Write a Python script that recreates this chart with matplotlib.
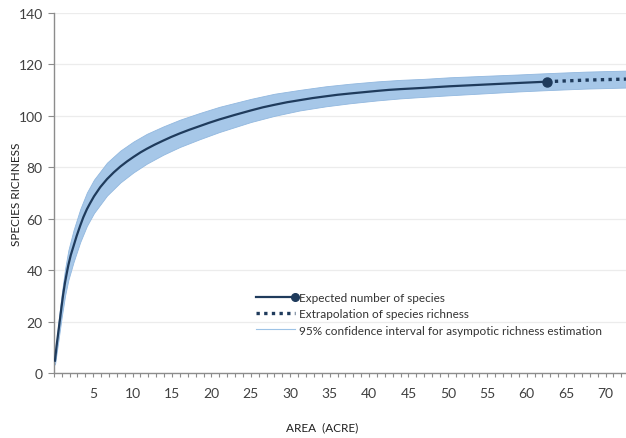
import matplotlib
matplotlib.use("Agg")
import matplotlib.pyplot as plt
from matplotlib.lines import Line2D
from matplotlib.legend_handler import HandlerBase
from matplotlib.ticker import MultipleLocator, FixedLocator

plt.rcParams['font.family'] = ['Lato', 'DejaVu Sans']

# ---- data ----
area = [0.15, 0.35, 0.57, 0.8, 1.0, 1.2, 1.43, 1.65, 1.85, 2.15, 2.5, 2.9, 3.35,
        3.75, 4.2, 4.6, 5.1, 5.9, 6.75, 7.6, 8.45, 9.3, 10.1, 11.0, 11.8, 12.8,
        13.9, 14.9, 16.0, 17.2, 18.5, 19.7, 21.0, 23.0, 25.0, 26.5, 28.0, 29.6,
        31.2, 32.8, 34.5, 36.0, 37.6, 39.3, 41.0, 42.5, 44.0, 47.0, 50.2, 54.9,
        59.0, 62.6]
richness = [4.8, 10.5, 15.8, 21.3, 26.2, 30.8, 35.3, 38.9, 42.0, 45.8, 49.3, 53.3,
            57.3, 60.6, 63.7, 66.0, 68.7, 72.3, 75.4, 78.0, 80.3, 82.3, 84.0, 85.8,
            87.2, 88.8, 90.4, 91.8, 93.2, 94.6, 96.0, 97.3, 98.6, 100.4, 102.1,
            103.3, 104.3, 105.3, 106.1, 106.9, 107.6, 108.2, 108.7, 109.2, 109.7,
            110.1, 110.4, 110.9, 111.5, 112.2, 112.8, 113.3]

extrap_area = [62.6, 65.0, 67.5, 70.0, 72.6]
extrap_richness = [113.3, 113.6, 113.9, 114.1, 114.3]

band_area = [0.15, 0.57, 1.0, 1.43, 1.85, 2.5, 3.35, 4.2, 5.1, 6.75, 8.45, 10.1,
             11.8, 13.9, 16.0, 18.5, 21.0, 25.0, 28.0, 31.2, 34.5, 37.6, 41.0, 44.0,
             47.0, 50.2, 54.9, 59.0, 62.6, 65.0, 67.5, 70.0, 72.6]
band_lower = [3.3, 12.3, 21.7, 30.1, 36.2, 43.1, 50.9, 57.2, 62.2, 69.0, 74.1, 78.0,
              81.4, 84.9, 87.9, 90.9, 93.7, 97.6, 100.0, 102.1, 103.7, 104.9, 106.0,
              106.8, 107.4, 108.0, 108.8, 109.5, 110.0, 110.3, 110.6, 110.8, 111.0]
band_upper = [6.3, 19.3, 30.7, 40.5, 47.8, 55.5, 63.7, 70.2, 75.2, 81.8, 86.5, 90.0,
              93.0, 95.9, 98.5, 101.1, 103.5, 106.6, 108.6, 110.1, 111.5, 112.5, 113.4,
              114.0, 114.4, 115.0, 115.6, 116.1, 116.6, 116.9, 117.2, 117.4, 117.6]

x_tick_values = [5, 10, 15, 20, 25, 30, 35, 40, 45, 50, 55, 60, 65, 70]
y_tick_values = [0, 20, 40, 60, 80, 100, 120, 140]

legend_labels = ["Expected number of species",
                 "Extrapolation of species richness",
                 "95% confidence interval for asympotic richness estimation"]

LINE_C = '#1f3b5c'
BAND_C = '#a6c7e8'
BAND_EDGE = '#92b8df'

fig = plt.figure(figsize=(6.26, 4.39), dpi=100)
ax = fig.add_axes([53.8 / 626, 1 - 374 / 439, (626 - 53.8) / 626, (374 - 14) / 439])

ax.fill_between(band_area, band_lower, band_upper, color=BAND_C, edgecolor=BAND_EDGE,
                linewidth=0.6, zorder=2)
ax.plot(area, richness, color=LINE_C, lw=1.6, zorder=3, solid_joinstyle='round')
ax.plot(extrap_area, extrap_richness, color=LINE_C, lw=2.4, linestyle=(0, (1, 1.3)),
        zorder=3)
ax.plot([area[-1]], [richness[-1]], marker='o', markersize=6.5, color=LINE_C, zorder=4)

ax.set_xlim(0, 72.6)
ax.set_ylim(0, 140)
ax.xaxis.set_major_locator(FixedLocator(x_tick_values))
ax.xaxis.set_minor_locator(MultipleLocator(1))
ax.yaxis.set_major_locator(FixedLocator(y_tick_values))

for s in ('top', 'right'):
    ax.spines[s].set_visible(False)
for s in ('left', 'bottom'):
    ax.spines[s].set_color('#8c8c8c')
    ax.spines[s].set_linewidth(1.0)

ax.tick_params(axis='x', which='both', direction='out', length=3, width=0.8,
               color='#8c8c8c', labelsize=10, labelcolor='#404040', pad=7)
ax.tick_params(axis='y', which='major', direction='out', length=4, width=0.8,
               color='#8c8c8c', labelsize=10, labelcolor='#404040', pad=4)
ax.grid(axis='y', color='#ececec', linewidth=0.9, zorder=0)
ax.set_axisbelow(True)

fig.text(17 / 626, 1 - 194 / 439, "SPECIES RICHNESS", fontsize=8.5, color='#202020',
         ha='center', va='center', rotation=90)
fig.text(322 / 626, 1 - 428 / 439, "AREA  (ACRE)", fontsize=8.5, color='#202020',
         ha='center', va='center')


class HandlerEndMarker(HandlerBase):
    def create_artists(self, legend, orig_handle, xdescent, ydescent, width, height,
                       fontsize, trans):
        yc = height / 2 - ydescent
        ln = Line2D([-xdescent, width - xdescent], [yc, yc], color=LINE_C, lw=1.6)
        mk = Line2D([width - xdescent], [yc], marker='o', markersize=5.5,
                    color=LINE_C, linestyle='none')
        ln.set_transform(trans)
        mk.set_transform(trans)
        return [ln, mk]


h_expected = Line2D([], [], color=LINE_C)
h_extrap = Line2D([], [], color=LINE_C, lw=2.4, linestyle=(0, (1, 1.3)))
h_ci = Line2D([], [], color='#9dc3e6', lw=0.8)
ax.legend([h_expected, h_extrap, h_ci], legend_labels,
          handler_map={h_expected: HandlerEndMarker()},
          loc='upper left', bbox_to_anchor=((256 - 53.8) / 572.2, (374 - 293) / 360),
          frameon=False, fontsize=8.5, handlelength=3.3, handletextpad=0.35,
          labelspacing=0.45, borderaxespad=0, borderpad=0, labelcolor='#333333')

fig.savefig("out.png", dpi=100)
